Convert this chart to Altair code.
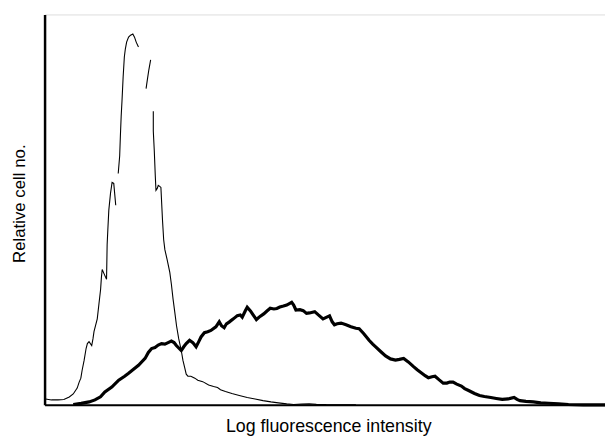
import altair as alt
import pandas as pd

# Control (thin) histogram: fluorescence channel, relative count; drawn in broken segments
ctrl_seg_sizes = [31, 15, 4, 47]
ctrl_x = [1, 7, 13.6, 19.5, 25, 29, 33, 35, 36.7, 38, 40, 42, 43.3, 45, 47.7, 49, 50, 53.3, 55, 56.7,
          57.5, 58.3, 60, 62.7, 63.3, 64, 65, 66.7, 68.3, 70, 72,
          74.5, 76, 76.7, 77.5, 78.3, 79.5, 80.7, 81.7, 83, 85, 87, 89.3, 91, 92.7, 95,
          102.7, 104, 105.5, 107.3,
          110, 110, 111, 112, 112.7, 114, 115, 116.5, 117.7, 119.3, 120.5, 121.7, 124, 126.7, 128.3,
          130, 131.7, 133.5, 135.7, 138.3, 140, 141.7, 143.3, 145, 148, 152, 155, 160, 166, 171, 175,
          178, 183, 189.5, 197, 205, 213, 221, 229, 236.5, 245, 252, 260, 267.7, 275, 285, 315]
ctrl_y = [6, 5, 5, 5.5, 8, 11, 17, 23, 27, 35, 45, 57, 62, 64, 60, 67, 74, 87, 102, 117,
          129, 137, 133, 127, 162, 177, 197, 214, 225, 224, 202,
          234, 252, 272, 292, 307, 332, 352, 360, 367, 372, 374, 375.3, 372, 367, 362,
          320, 329, 339, 349,
          297, 277, 257, 232, 217, 219, 222, 221, 220, 187, 167, 157, 147, 134, 122,
          107, 94, 80, 67, 55, 45, 38, 31, 29, 29, 27, 25, 23.5, 20, 18.5, 17.5,
          15.3, 13.5, 11.4, 9.5, 7.5, 6, 4.3, 3, 2, 1, 0.4, 0.7, 1, 0.5, 0.2, 0]

# Stained (thick) histogram
stain_x = [29, 37, 45, 51, 56.6, 61, 68, 75, 81, 85, 90, 95, 101.7, 105, 108.3, 111.7, 115, 118.3,
           121.7, 125, 128.3, 131, 133.3, 138.3, 141, 143.3, 146.7, 150, 153.3, 156, 158.3, 161.7,
           165, 168.3, 173.3, 176.7, 179, 181.7, 184, 186.7, 191, 195, 198, 200, 203, 205, 208.3,
           211, 214.3, 218, 221.7, 225, 228.3, 232, 235, 238, 241.7, 245, 250, 252, 254.3, 258.3,
           261.7, 265, 268, 273.3, 277, 281.7, 285, 288.3, 291, 293.3, 296, 300, 305, 310, 315,
           318.3, 323, 328.3, 332, 335, 340, 345, 350, 355, 359, 363.3, 368, 373.3, 377, 381.7,
           385, 388.3, 392, 395, 399, 403.3, 407, 410, 413.3, 417, 421.7, 425, 429, 435, 440,
           445, 451.5, 457, 463, 469, 475, 478, 481, 487, 494.5, 502, 510, 520, 530, 545, 567]
stain_y = [0.4, 1.5, 3, 5, 8.2, 13, 18, 25, 29, 32, 36, 40, 47, 53, 57, 58, 60.5, 62,
           61.5, 63, 64.5, 63, 60, 55, 59, 62, 65.3, 63, 58.7, 64, 68.7, 73,
           74, 75.3, 79, 84, 80, 78, 82, 83.7, 87, 90.3, 91, 88.7, 95, 98.7, 95,
           91, 86.3, 89.5, 92, 95, 97.7, 97, 97.5, 99, 100, 101, 103.7, 101, 96, 96.3,
           95.3, 92.5, 93, 94.3, 91, 87, 88.5, 90, 84, 81, 82, 82.7, 81, 79, 77.5,
           77, 72, 65.3, 61.5, 58.7, 54, 49.5, 46.5, 45.3, 46, 47, 43.5, 38.7, 35.5, 32,
           29.5, 27.5, 28.5, 29, 25.5, 22, 22, 23, 23, 21, 19, 16.5, 14.5, 11.5, 9.4,
           8.5, 7.5, 6.5, 5.5, 6, 7.5, 5.5, 4.3, 3.5, 3, 2, 1.6, 1, 0.4, 0, 0]

x_title = "Log fluorescence intensity"
y_title = "Relative cell no."

ctrl_seg = [k for k, n in enumerate(ctrl_seg_sizes) for _ in range(n)]
ctrl = pd.DataFrame({"x": ctrl_x, "y": ctrl_y, "seg": ctrl_seg, "i": range(len(ctrl_x))})
stain = pd.DataFrame({"x": stain_x, "y": stain_y, "i": range(len(stain_x))})

FONT = "Liberation Sans"

xscale = alt.Scale(domain=[0, 567], nice=False, zero=False)
yscale = alt.Scale(domain=[0, 395], nice=False)

xaxis = alt.Axis(title=x_title, ticks=False, labels=False, grid=False, domainColor="black",
                 domainWidth=2, titleFont=FONT, titleFontSize=18, titleFontWeight="normal",
                 titleColor="black", titleBaseline="middle", titleY=22, titleX=287)
yaxis = alt.Axis(title=y_title, ticks=False, labels=False, grid=False, domainColor="black",
                 domainWidth=2.5, titleFont=FONT, titleFontSize=17, titleFontWeight="normal",
                 titleColor="black", titleAngle=-90, titleBaseline="middle", titleAlign="center",
                 titleX=-25, titleY=191)

thin = alt.Chart(ctrl).mark_line(color="black", strokeWidth=1.1).encode(
    x=alt.X("x:Q", scale=xscale, axis=xaxis),
    y=alt.Y("y:Q", scale=yscale, axis=yaxis),
    detail="seg:N",
    order="i:Q",
)
thick = alt.Chart(stain).mark_line(color="black", strokeWidth=3.2).encode(
    x=alt.X("x:Q", scale=xscale),
    y=alt.Y("y:Q", scale=yscale),
    order="i:Q",
)

chart = alt.layer(thin, thick).properties(
    width=567, height=395,
    autosize=alt.AutoSizeParams(type="none"),
    padding={"left": 37, "top": 4, "right": 0, "bottom": 29},
).configure_view(stroke=None).configure(background="white")

chart.save("out.html", embed_options={"renderer": "svg", "actions": False})
